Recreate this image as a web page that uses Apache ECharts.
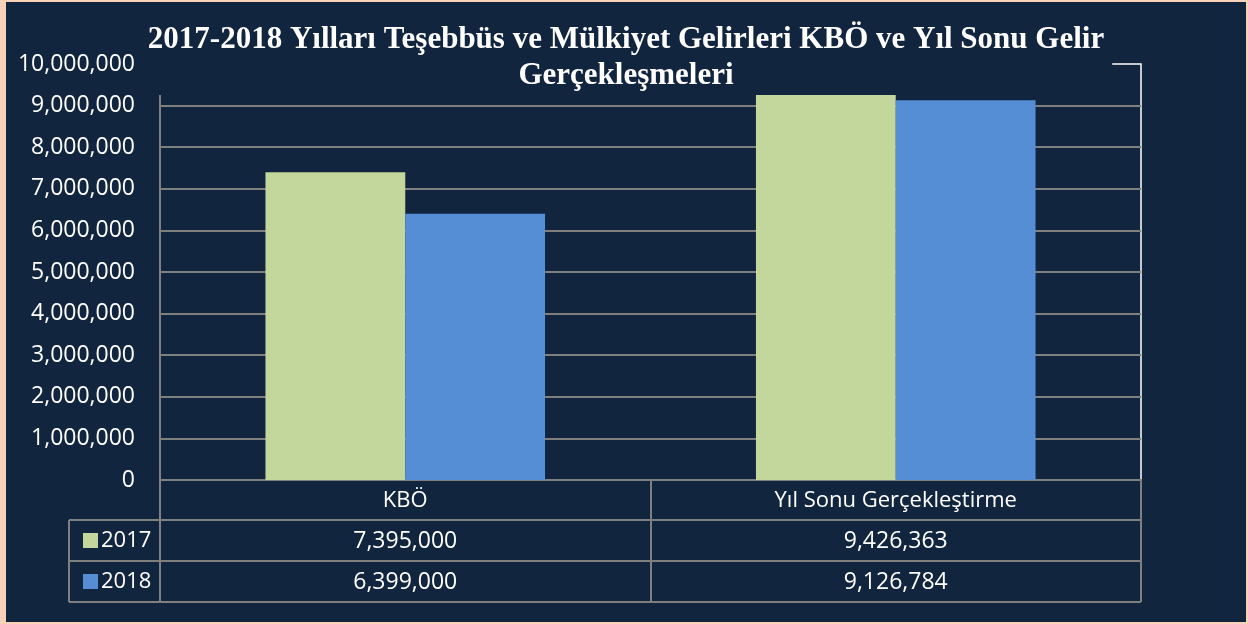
<!DOCTYPE html>
<html>
<head>
<meta charset="utf-8">
<script src="https://cdn.jsdelivr.net/npm/echarts@6/dist/echarts.min.js"></script>
<style>
  html, body { margin: 0; padding: 0; }
  body { width: 1248px; height: 624px; background: #f7d2b6; position: relative; overflow: hidden; }
  #chart { position: absolute; left: 6px; top: 2px; width: 1240px; height: 620px; }
</style>
</head>
<body>
<div id="chart"></div>
<script>
var categories = ['KBÖ', 'Yıl Sonu Gerçekleştirme'];
var years = ['2017', '2018'];
var values2017 = [7395000, 9426363];
var values2018 = [6399000, 9126784];

var BG = '#12253f';
var LINE = '#7f7f7f';
var labelFont = '"Open Sans", "Noto Sans", sans-serif';

function fmt(v) {
  return v.toLocaleString('en-US');
}

var chart = echarts.init(document.getElementById('chart'));

var option = {
  backgroundColor: BG,
  animation: false,
  title: {
    text: '2017-2018 Yılları Teşebbüs ve Mülkiyet Gelirleri KBÖ ve Yıl Sonu Gelir\nGerçekleşmeleri',
    left: 'center',
    top: 14,
    padding: [6, 8, 1, 8],
    backgroundColor: BG,
    textStyle: {
      color: '#ffffff',
      fontFamily: '"Liberation Serif", "Times New Roman", serif',
      fontWeight: 'bold',
      fontSize: 31,
      lineHeight: 36,
      align: 'center'
    }
  },
  legend: {
    orient: 'vertical',
    left: 72,
    top: 522,
    itemWidth: 15,
    itemHeight: 15,
    itemGap: 18,
    icon: 'rect',
    data: years,
    textStyle: { color: '#ffffff', fontFamily: labelFont, fontSize: 22, lineHeight: 23, padding: [0, 0, 0, -2] }
  },
  grid: {
    left: 154,
    top: 62,
    width: 981,
    height: 416,
    show: true,
    borderColor: '#ffffff',
    borderWidth: 1.5,
    backgroundColor: 'transparent'
  },
  xAxis: {
    type: 'category',
    data: categories,
    axisLine: { show: true, lineStyle: { color: LINE, width: 2 } },
    axisTick: { show: true, length: 122, lineStyle: { color: LINE, width: 2 } },
    axisLabel: {
      margin: 0,
      interval: 0,
      formatter: function (value, idx) {
        return '{c|' + value + '}\n{v|' + fmt(values2017[idx]) + '}\n{v|' + fmt(values2018[idx]) + '}';
      },
      rich: {
        c: { color: '#ffffff', fontFamily: labelFont, fontSize: 22, lineHeight: 41 },
        v: { color: '#ffffff', fontFamily: labelFont, fontSize: 23, lineHeight: 41 }
      }
    }
  },
  yAxis: {
    type: 'value',
    min: 0,
    max: 10000000,
    interval: 1000000,
    axisLine: { show: true, lineStyle: { color: LINE, width: 2 } },
    axisTick: { show: false },
    splitLine: { showMaxLine: false, lineStyle: { color: LINE, width: 2 } },
    axisLabel: {
      margin: 25,
      color: '#ffffff',
      fontFamily: labelFont,
      fontSize: 23,
      formatter: function (v) { return fmt(v); }
    }
  },
  series: [
    {
      name: '2017',
      type: 'bar',
      data: values2017,
      barGap: '0%',
      barCategoryGap: '43%',
      itemStyle: { color: '#c3d69b' }
    },
    {
      name: '2018',
      type: 'bar',
      data: values2018,
      itemStyle: { color: '#558ed5' }
    }
  ],
  graphic: [
    { type: 'line', shape: { x1: 63, y1: 518, x2: 1135, y2: 518 }, style: { stroke: LINE, lineWidth: 2 } },
    { type: 'line', shape: { x1: 63, y1: 559, x2: 1135, y2: 559 }, style: { stroke: LINE, lineWidth: 2 } },
    { type: 'line', shape: { x1: 63, y1: 600, x2: 1135, y2: 600 }, style: { stroke: LINE, lineWidth: 2 } },
    { type: 'line', shape: { x1: 63, y1: 518, x2: 63, y2: 600 }, style: { stroke: LINE, lineWidth: 2 } }
  ]
};

chart.setOption(option);
</script>
</body>
</html>
